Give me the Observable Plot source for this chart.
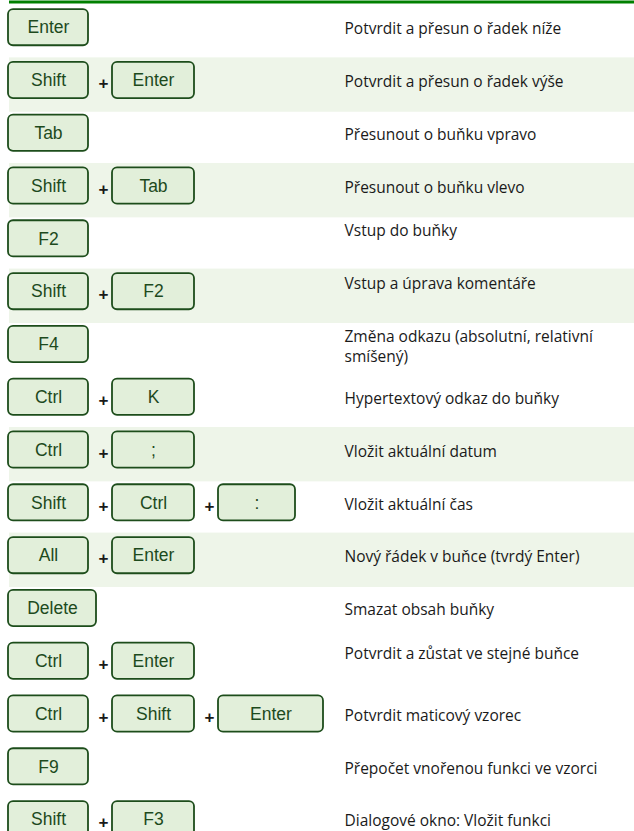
<!DOCTYPE html>
<html>
<head>
<meta charset="utf-8">
<script src="https://cdn.jsdelivr.net/npm/d3@7"></script>
<script src="https://cdn.jsdelivr.net/npm/@observablehq/plot@0.6"></script>
<style>
  html, body { margin: 0; padding: 0; background: #ffffff; }
  #chart svg { display: block; }
</style>
</head>
<body>
<div id="chart"></div>
<script>
// ---- data ----
const shortcuts = [
  ["Enter"],
  ["Shift", "Enter"],
  ["Tab"],
  ["Shift", "Tab"],
  ["F2"],
  ["Shift", "F2"],
  ["F4"],
  ["Ctrl", "K"],
  ["Ctrl", ";"],
  ["Shift", "Ctrl", ":"],
  ["All", "Enter"],
  ["Delete"],
  ["Ctrl", "Enter"],
  ["Ctrl", "Shift", "Enter"],
  ["F9"],
  ["Shift", "F3"]
];
const descriptions = [
  "Potvrdit a přesun o řadek níže",
  "Potvrdit a přesun o řadek výše",
  "Přesunout o buňku vpravo",
  "Přesunout o buňku vlevo",
  "Vstup do buňky",
  "Vstup a úprava komentáře",
  "Změna odkazu (absolutní, relativní\nsmíšený)",
  "Hypertextový odkaz do buňky",
  "Vložit aktuální datum",
  "Vložit aktuální čas",
  "Nový řádek v buňce (tvrdý Enter)",
  "Smazat obsah buňky",
  "Potvrdit a zůstat ve stejné buňce",
  "Potvrdit maticový vzorec",
  "Přepočet vnořenou funkci ve vzorci",
  "Dialogové okno: Vložit funkci"
];
const shadedRows = [1, 3, 5, 8, 10];

// ---- layout (not data) ----
const slotX = [8, 112, 218];
const slotW = [80, 82, 77];
const widthOverride = {"11-0": 88, "13-2": 105};
const topAligned = new Set([4, 5, 6, 12]);

const keys = shortcuts.flatMap((ks, i) => ks.map((label, j) => ({
  row: i, slot: j, label,
  x1: slotX[j],
  x2: slotX[j] + (widthOverride[`${i}-${j}`] ?? slotW[j])
})));
const pluses = shortcuts.flatMap((ks, i) => ks.slice(1).map((_, j) => ({
  row: i, x: (slotX[j] + slotW[j] + slotX[j + 1]) / 2 + 3
})));
const descs = descriptions.map((text, i) => ({row: i, text, top: topAligned.has(i)}));
const bands = shadedRows.map(r => ({row: r}));

const textFont = "Open Sans, sans-serif";
const chart = Plot.plot({
  width: 634,
  height: 831,
  margin: 0,
  x: {domain: [0, 634], range: [0, 634], axis: null},
  y: {domain: [0, 16], range: [3, 3 + 16 * 52.8], axis: null},
  marks: [
    Plot.rect(bands, {x1: 9, x2: 634, y1: d => d.row + 0.03, y2: d => d.row + 1.06, fill: "#eef5e9"}),
    Plot.ruleY([0], {x1: 9, x2: 634, stroke: "#008000", strokeWidth: 3, dy: -1.5}),
    Plot.rect(keys, {
      x1: "x1", x2: "x2",
      y1: d => d.row + 0.115, y2: d => d.row + 0.80,
      fill: "#e2efda", stroke: "#1d4d1b", strokeWidth: 1.8, rx: 5
    }),
    Plot.text(keys, {
      x: d => (d.x1 + d.x2) / 2, y: d => d.row + 0.46,
      text: "label", fill: "#1d4a1d",
      fontFamily: "Liberation Sans, Arial, sans-serif", fontSize: 17.5
    }),
    Plot.text(pluses, {
      x: "x", y: d => d.row + 0.52, text: () => "+",
      fill: "#1a1a1a", fontFamily: "Liberation Sans, Arial, sans-serif", fontSize: 17, fontWeight: "bold"
    }),
    Plot.text(descs.filter(d => !d.top), {
      x: 344, y: d => d.row + 0.49,
      text: "text", textAnchor: "start", lineAnchor: "middle",
      fill: "#1a1a1a", fontFamily: textFont, fontSize: 15.5
    }),
    Plot.text(descs.filter(d => d.top), {
      x: 344, y: d => d.row + 0.14,
      text: "text", textAnchor: "start", lineAnchor: "top",
      fill: "#1a1a1a", fontFamily: textFont, fontSize: 15.5, lineHeight: 1.3
    })
  ]
});
document.getElementById("chart").appendChild(chart);
</script>
</body>
</html>
